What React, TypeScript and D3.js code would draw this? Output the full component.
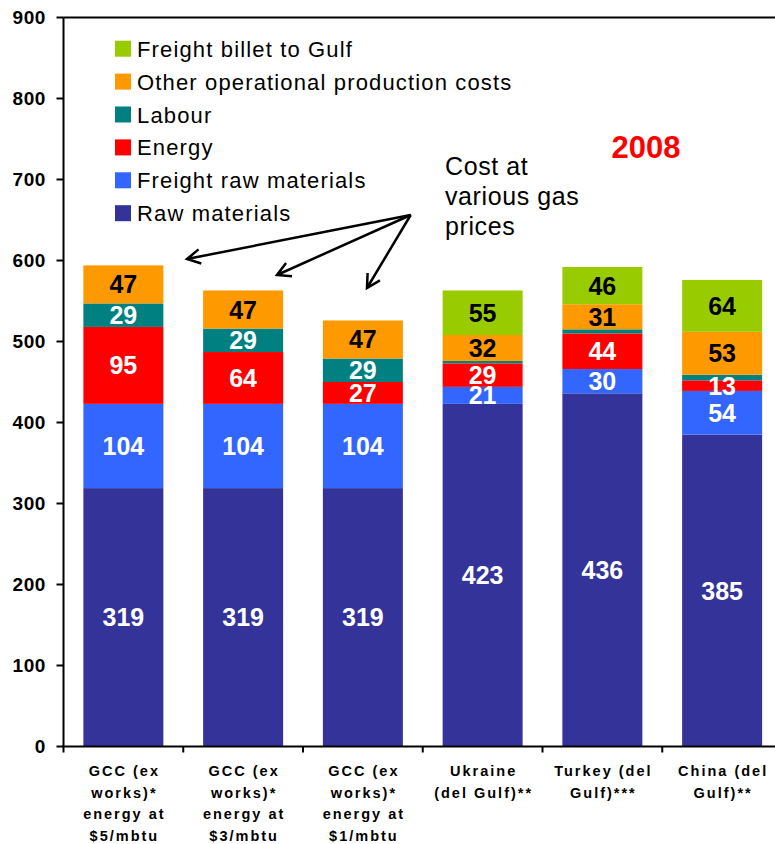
import React from 'react';
import * as d3 from 'd3';

const categories = [
  ['GCC (ex', 'works)*', 'energy at', '$5/mbtu'],
  ['GCC (ex', 'works)*', 'energy at', '$3/mbtu'],
  ['GCC (ex', 'works)*', 'energy at', '$1/mbtu'],
  ['Ukraine', '(del Gulf)**'],
  ['Turkey (del', 'Gulf)***'],
  ['China (del', 'Gulf)**'],
];

const rawMaterials = [319, 319, 319, 423, 436, 385];
const freightRaw = [104, 104, 104, 21, 30, 54];
const energy = [95, 64, 27, 29, 44, 13];
const labour = [29, 29, 29, 3, 5, 7];
const otherCosts = [47, 47, 47, 32, 31, 53];
const freightBillet = [0, 0, 0, 55, 46, 64];

const seriesNames = [
  'Raw materials',
  'Freight raw materials',
  'Energy',
  'Labour',
  'Other operational production costs',
  'Freight billet to Gulf',
];
const seriesColors = ['#333399', '#3366FF', '#FF0000', '#008080', '#FF9900', '#99CC00'];
const labelColors = ['#fff', '#fff', '#fff', '#fff', '#000', '#000'];

const yTicks = [0, 100, 200, 300, 400, 500, 600, 700, 800, 900];

const width = 775;
const height = 844;
const marginLeft = 63.5;
const marginTop = 17.5;
const plotRight = 782;
const plotBottom = 746.5;

const font = 'Liberation Sans, Arial, sans-serif';

export default function App() {
  const keys = categories.map((_, i) => String(i));
  const x = d3.scaleBand(keys, [marginLeft, plotRight]).paddingInner(0.332).paddingOuter(0.166);
  const y = d3.scaleLinear([0, 900], [plotBottom, marginTop]);

  const table = keys.map((k, i) => ({
    key: k,
    s0: rawMaterials[i],
    s1: freightRaw[i],
    s2: energy[i],
    s3: labour[i],
    s4: otherCosts[i],
    s5: freightBillet[i],
  }));
  const stack = d3.stack<any>().keys(['s0', 's1', 's2', 's3', 's4', 's5'])(table);

  // annotation arrows
  const arrowFrom = [410.7, 215];
  const arrowTo = [[187, 259], [277, 275], [367, 288]];
  const arrowPath = (to: number[]) => {
    const ang = Math.atan2(to[1] - arrowFrom[1], to[0] - arrowFrom[0]);
    const L = 15, a = 0.5;
    const p1 = [to[0] - L * Math.cos(ang - a), to[1] - L * Math.sin(ang - a)];
    const p2 = [to[0] - L * Math.cos(ang + a), to[1] - L * Math.sin(ang + a)];
    return `M${arrowFrom[0]},${arrowFrom[1]}L${to[0]},${to[1]}M${p1[0]},${p1[1]}L${to[0]},${to[1]}L${p2[0]},${p2[1]}`;
  };

  const step = x.step();

  return (
    <svg width={width} height={height} style={{ position: 'absolute', left: 0, top: 0, background: '#fff' }} fontFamily={font}>
      {/* bars */}
      {stack.map((layer, si) => (
        <g key={si} fill={seriesColors[si]}>
          {layer.map((d, i) => d[1] - d[0] > 0 ? (
            <rect key={i} x={x(keys[i])} y={y(d[1])} width={x.bandwidth()} height={y(d[0]) - y(d[1])} />
          ) : null)}
        </g>
      ))}
      {/* value labels */}
      {stack.map((layer, si) => (
        <g key={'l' + si} fill={labelColors[si]} fontSize={25} fontWeight="bold" textAnchor="middle">
          {layer.map((d, i) => d[1] - d[0] >= 10 ? (
            <text key={i} x={x(keys[i])! + x.bandwidth() / 2} y={y((d[0] + d[1]) / 2)} dy="0.36em">{d[1] - d[0]}</text>
          ) : null)}
        </g>
      ))}

      {/* axes */}
      <line x1={marginLeft} x2={width} y1={marginTop} y2={marginTop} stroke="#000" strokeWidth={2} />
      <line x1={marginLeft} x2={marginLeft} y1={marginTop} y2={plotBottom} stroke="#000" strokeWidth={2} />
      <line x1={marginLeft - 1} x2={width} y1={plotBottom} y2={plotBottom} stroke="#000" strokeWidth={2} />
      {yTicks.map(t => (
        <g key={t}>
          <line x1={marginLeft - 7} x2={marginLeft} y1={y(t)} y2={y(t)} stroke="#000" strokeWidth={2} />
          <text x={46} y={y(t)} dy="0.36em" textAnchor="end" fontSize={19} fontWeight="bold" letterSpacing={0.6}>{t}</text>
        </g>
      ))}
      {keys.map((k, i) => (
        <g key={k}>
          <line x1={marginLeft + step * i} x2={marginLeft + step * i} y1={plotBottom} y2={plotBottom + 6} stroke="#000" strokeWidth={2} />
          <text x={x(k)! + x.bandwidth() / 2} y={776} textAnchor="middle" fontSize={14.5} fontWeight="bold" letterSpacing={2}>
            {categories[i].map((ln, j) => (
              <tspan key={j} x={x(k)! + x.bandwidth() / 2 + 1} y={776 + j * 21.5}>{ln}</tspan>
            ))}
          </text>
        </g>
      ))}

      {/* legend */}
      {seriesNames.slice().reverse().map((name, j) => {
        const si = seriesNames.length - 1 - j;
        const top = 40.7 + j * 32.9;
        return (
          <g key={name}>
            <rect x={115} y={top} width={16} height={16} fill={seriesColors[si]} />
            <text x={137} y={top + 16} fontSize={22} letterSpacing={1.15}>{name}</text>
          </g>
        );
      })}

      {/* annotation */}
      <text fontSize={25} x={445} letterSpacing={0.6}>
        <tspan x={445} y={175}>Cost at</tspan>
        <tspan x={445} y={205}>various gas</tspan>
        <tspan x={445} y={235}>prices</tspan>
      </text>
      <g fill="none" stroke="#000" strokeWidth={2.5}>
        {arrowTo.map((t, i) => <path key={i} d={arrowPath(t)} />)}
      </g>
      <text x={646} y={158} textAnchor="middle" fontSize={31} fontWeight="bold" fill="#FF0000">2008</text>
    </svg>
  );
}
